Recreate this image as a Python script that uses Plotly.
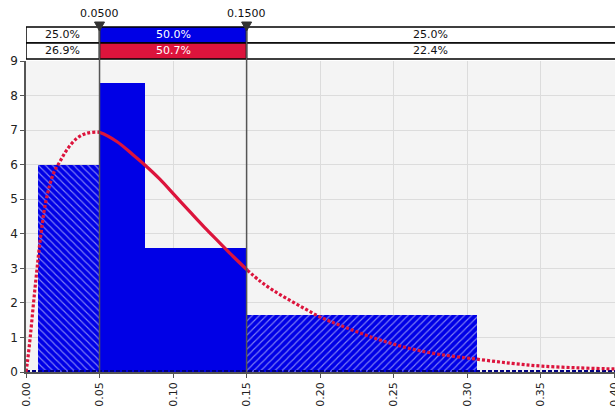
import plotly.graph_objects as go

# ---- data ----
bin_left = [0.0083, 0.05, 0.0808, 0.15]
bin_right = [0.05, 0.0808, 0.15, 0.3066]
bin_height = [6.0, 8.35, 3.58, 1.65]
bin_pattern = ["\\", "", "", "/"]

curve_x = [0.0, 0.001, 0.0029, 0.0051, 0.0074, 0.0101, 0.0137, 0.0187, 0.0232, 0.0278,
           0.0345, 0.0413, 0.0492, 0.0503, 0.0617, 0.0729, 0.0808, 0.091, 0.1012, 0.1114,
           0.1215, 0.1317, 0.1407, 0.1505, 0.1588, 0.1678, 0.1792, 0.1905, 0.2006, 0.2131,
           0.2356, 0.2583, 0.2797, 0.3068, 0.3305, 0.3509, 0.3758, 0.3983, 0.4005]
curve_y = [0.0, 0.3, 1.02, 1.99, 2.95, 3.97, 4.98, 5.75, 6.1, 6.43,
           6.76, 6.91, 6.94, 6.93, 6.67, 6.28, 5.99, 5.58, 5.11, 4.64,
           4.18, 3.74, 3.35, 2.95, 2.64, 2.37, 2.08, 1.81, 1.58, 1.36,
           1.0, 0.71, 0.52, 0.37, 0.25, 0.17, 0.12, 0.09, 0.09]

delimiters = [0.05, 0.15]
delimiter_labels = ["0.0500", "0.1500"]
row1_pct = ["25.0%", "50.0%", "25.0%"]
row2_pct = ["26.9%", "50.7%", "22.4%"]

x_ticks = [0.0, 0.05, 0.10, 0.15, 0.20, 0.25, 0.30, 0.35, 0.40]
x_tick_text = ["0.00", "0.05", "0.10", "0.15", "0.20", "0.25", "0.30", "0.35", "0.40"]
y_ticks = list(range(0, 10))

BLUE = "#0000E6"
RED = "#DC143C"
FONT = "DejaVu Sans"
XMAX = 0.4005

fig = go.Figure()

# baseline (zero-height bins)
fig.add_trace(go.Scatter(x=[0.0, XMAX], y=[0.03, 0.03], mode="lines",
                         line=dict(color="#000080", width=2, dash="4px,2px"),
                         hoverinfo="skip", showlegend=False))

widths = [r - l for l, r in zip(bin_left, bin_right)]
fig.add_trace(go.Bar(x=bin_left, y=bin_height, width=widths, offset=0,
                     marker=dict(color=BLUE, line=dict(width=0),
                                 pattern=dict(shape=bin_pattern, fgcolor="white",
                                              fillmode="overlay", size=5, solidity=0.22)),
                     showlegend=False))

# density curve: dotted outside the delimiters, solid inside
lo, hi = delimiters
xo1 = [x for x in curve_x if x <= lo + 0.001]
yo1 = [y for x, y in zip(curve_x, curve_y) if x <= lo + 0.001]
xi = [x for x in curve_x if lo - 0.001 <= x <= hi + 0.001]
yi = [y for x, y in zip(curve_x, curve_y) if lo - 0.001 <= x <= hi + 0.001]
xo2 = [x for x in curve_x if x >= hi - 0.001]
yo2 = [y for x, y in zip(curve_x, curve_y) if x >= hi - 0.001]
for xs, ys, dash in [(xo1, yo1, "3px,2px"), (xi, yi, "solid"), (xo2, yo2, "3px,2px")]:
    fig.add_trace(go.Scatter(x=xs, y=ys, mode="lines",
                             line=dict(color=RED, width=3.2, dash=dash, shape="spline", smoothing=1.0),
                             cliponaxis=True, hoverinfo="skip", showlegend=False))

# ---- top delimiter boxes ----
plot_top, plot_bottom = 61, 372
ph = plot_bottom - plot_top


def py(p):
    return (plot_bottom - p) / ph


r1_top, r1_bot, r2_bot = py(27), py(43), py(59)
edges = [0.0] + delimiters + [0.45]
shapes = []
annotations = []
for i in range(3):
    x0, x1 = edges[i], edges[i + 1]
    c1 = BLUE if i == 1 else "white"
    c2 = RED if i == 1 else "white"
    shapes.append(dict(type="rect", xref="x", yref="paper", x0=x0, x1=x1, y0=r1_bot, y1=r1_top,
                       fillcolor=c1, line=dict(color="black", width=1.5)))
    shapes.append(dict(type="rect", xref="x", yref="paper", x0=x0, x1=x1, y0=r2_bot, y1=r1_bot,
                       fillcolor=c2, line=dict(color="black", width=1.5)))
    cx = (x0 + min(x1, XMAX)) / 2
    tc = "white" if i == 1 else "#111"
    annotations.append(dict(x=cx, y=(r1_top + r1_bot) / 2, xref="x", yref="paper", text=row1_pct[i],
                            xanchor="center", yanchor="middle", showarrow=False,
                            font=dict(family=FONT, size=11, color=tc)))
    annotations.append(dict(x=cx, y=(r1_bot + r2_bot) / 2, xref="x", yref="paper", text=row2_pct[i],
                            xanchor="center", yanchor="middle", showarrow=False,
                            font=dict(family=FONT, size=11, color=tc)))

tri_w = 0.0034
for d, lab in zip(delimiters, delimiter_labels):
    shapes.append(dict(type="line", xref="x", yref="paper", x0=d, x1=d, y0=0, y1=r1_top,
                       line=dict(color="#555555", width=1.5), layer="above"))
    shapes.append(dict(type="path", xref="x", yref="paper",
                       path=f"M {d - tri_w},{py(22)} L {d + tri_w},{py(22)} L {d},{py(31)} Z",
                       fillcolor="#333333", line=dict(color="#333333", width=1)))
    annotations.append(dict(x=d, y=py(14), xref="x", yref="paper", text=lab, showarrow=False,
                            xanchor="center", yanchor="middle",
                            font=dict(family=FONT, size=11, color="#111")))

fig.update_layout(
    width=615, height=411,
    margin=dict(l=26, r=0, t=plot_top, b=411 - plot_bottom, autoexpand=False),
    paper_bgcolor="white", plot_bgcolor="#F4F4F4",
    shapes=shapes, annotations=annotations, showlegend=False, bargap=0,
    font=dict(family=FONT, size=12, color="#222"),
)
fig.update_xaxes(range=[0, XMAX], tickvals=x_ticks, ticktext=x_tick_text, tickangle=-90,
                 ticklabeloverflow="allow", automargin=False,
                 showgrid=True, gridcolor="#DCDCDC", gridwidth=1, zeroline=False,
                 showline=True, linecolor="#555", linewidth=1.5, ticks="outside", ticklen=4,
                 tickcolor="#555", tickfont=dict(family=FONT, size=11, color="#222"))
fig.update_yaxes(range=[0, 9], tickvals=y_ticks, automargin=False,
                 showgrid=True, gridcolor="#DCDCDC", gridwidth=1,
                 zeroline=False, showline=True, linecolor="#555", linewidth=1.5, ticks="outside",
                 ticklen=4, tickcolor="#555", tickfont=dict(family=FONT, size=12, color="#222"))

fig.write_html("out.html", config={"displayModeBar": False},
               post_script="document.body.style.margin='0px';document.body.style.overflow='hidden';")
